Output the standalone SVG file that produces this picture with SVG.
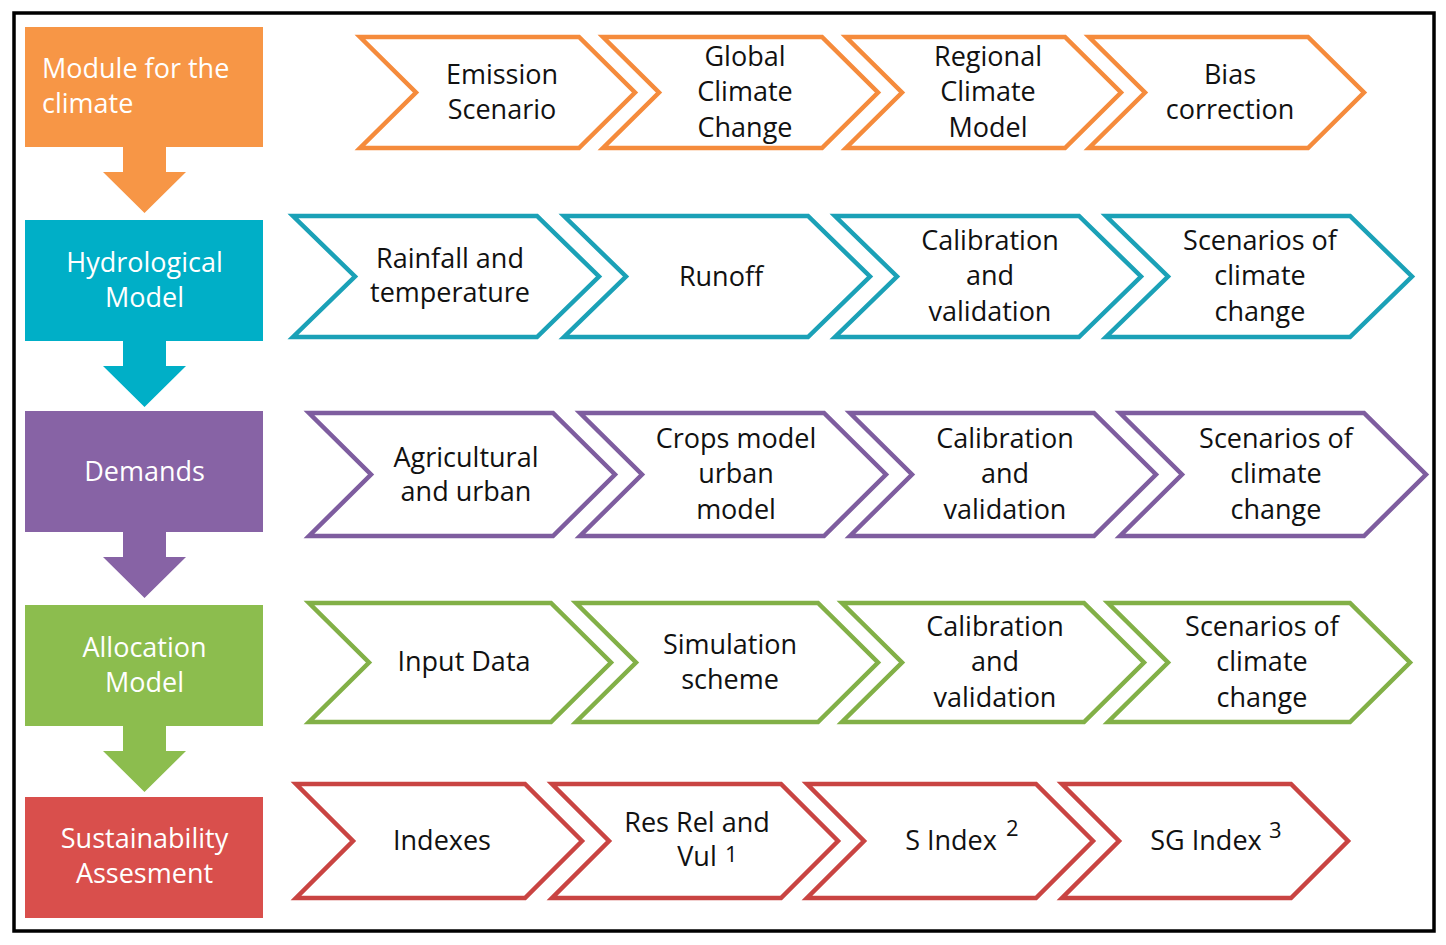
<svg xmlns="http://www.w3.org/2000/svg" width="1446" height="945" viewBox="0 0 1446 945">
<style>
text{font-family:"Open Sans","Noto Sans","DejaVu Sans",sans-serif;font-size:27px;}
.w{fill:#ffffff;}
.b{fill:#111111;text-anchor:middle;}
.c{fill:#ffffff;stroke-width:4.5;stroke-linejoin:miter;}
.sup{font-size:22px;text-anchor:start;}
.o{fill:#F79646;} .os{stroke:#F58B3C;}
.t{fill:#00AFC7;} .ts{stroke:#1BA1B7;}
.p{fill:#8763A5;} .ps{stroke:#7E5D9F;}
.g{fill:#8CBD4E;} .gs{stroke:#82B047;}
.r{fill:#D94F4C;} .rs{stroke:#C94442;}
</style>
<rect x="0" y="0" width="1446" height="945" fill="#ffffff"/>
<rect x="14" y="13" width="1420" height="918" fill="none" stroke="#000000" stroke-width="3.5"/>

<g id="module-climate">
<rect class="o" x="25" y="27" width="238" height="120"/>
<text class="w" x="42" y="78">Module for the</text>
<text class="w" x="42" y="113">climate</text>
</g>
<g id="hydrological-model">
<rect class="t" x="25" y="220" width="238" height="121"/>
<text class="w" x="144.5" y="272" text-anchor="middle">Hydrological</text>
<text class="w" x="144.5" y="307" text-anchor="middle">Model</text>
</g>
<g id="demands">
<rect class="p" x="25" y="411" width="238" height="121"/>
<text class="w" x="144.5" y="481" text-anchor="middle">Demands</text>
</g>
<g id="allocation-model">
<rect class="g" x="25" y="605" width="238" height="121"/>
<text class="w" x="144.5" y="657" text-anchor="middle">Allocation</text>
<text class="w" x="144.5" y="692" text-anchor="middle">Model</text>
</g>
<g id="sustainability">
<rect class="r" x="25" y="797" width="238" height="121"/>
<text class="w" x="144.5" y="848" text-anchor="middle">Sustainability</text>
<text class="w" x="144.5" y="883" text-anchor="middle">Assesment</text>
</g>

<g id="connectors">
<polygon class="o" points="123,146 166,146 166,172 186,172 144.5,213 103,172 123,172"/>
<polygon class="t" points="123,340 166,340 166,366 186,366 144.5,407 103,366 123,366"/>
<polygon class="p" points="123,531 166,531 166,557 186,557 144.5,598 103,557 123,557"/>
<polygon class="g" points="123,725 166,725 166,751 186,751 144.5,792 103,751 123,751"/>
</g>

<g id="emission-scenario">
<polygon class="c os" points="360,37 579,37 635,92.5 579,148 360,148 416,92.5"/>
<text class="b" x="502" y="84">Emission</text>
<text class="b" x="502" y="119">Scenario</text>
</g>
<g id="global-climate-change">
<polygon class="c os" points="603,37 822,37 878,92.5 822,148 603,148 659,92.5"/>
<text class="b" x="745" y="66">Global</text>
<text class="b" x="745" y="101">Climate</text>
<text class="b" x="745" y="137">Change</text>
</g>
<g id="regional-climate-model">
<polygon class="c os" points="846,37 1065,37 1121,92.5 1065,148 846,148 902,92.5"/>
<text class="b" x="988" y="66">Regional</text>
<text class="b" x="988" y="101">Climate</text>
<text class="b" x="988" y="137">Model</text>
</g>
<g id="bias-correction">
<polygon class="c os" points="1089,37 1308,37 1364,92.5 1308,148 1089,148 1145,92.5"/>
<text class="b" x="1230" y="84">Bias</text>
<text class="b" x="1230" y="119">correction</text>
</g>

<g id="rainfall-temperature">
<polygon class="c ts" points="293,216 537,216 599,276.5 537,337 293,337 355,276.5"/>
<text class="b" x="450" y="268">Rainfall and</text>
<text class="b" x="450" y="302">temperature</text>
</g>
<g id="runoff">
<polygon class="c ts" points="564,216 808,216 870,276.5 808,337 564,337 626,276.5"/>
<text class="b" x="721" y="286">Runoff</text>
</g>
<g id="hydro-calibration">
<polygon class="c ts" points="835,216 1079,216 1141,276.5 1079,337 835,337 897,276.5"/>
<text class="b" x="990" y="250">Calibration</text>
<text class="b" x="990" y="285">and</text>
<text class="b" x="990" y="321">validation</text>
</g>
<g id="hydro-scenarios">
<polygon class="c ts" points="1106,216 1350,216 1412,276.5 1350,337 1106,337 1168,276.5"/>
<text class="b" x="1260" y="250">Scenarios of</text>
<text class="b" x="1260" y="285">climate</text>
<text class="b" x="1260" y="321">change</text>
</g>

<g id="agricultural-urban">
<polygon class="c ps" points="309,413 553,413 615,474.5 553,536 309,536 371,474.5"/>
<text class="b" x="466" y="467">Agricultural</text>
<text class="b" x="466" y="501">and urban</text>
</g>
<g id="crops-urban-model">
<polygon class="c ps" points="580,413 824,413 886,474.5 824,536 580,536 642,474.5"/>
<text class="b" x="736" y="448">Crops model</text>
<text class="b" x="736" y="483">urban</text>
<text class="b" x="736" y="519">model</text>
</g>
<g id="demand-calibration">
<polygon class="c ps" points="850,413 1094,413 1156,474.5 1094,536 850,536 912,474.5"/>
<text class="b" x="1005" y="448">Calibration</text>
<text class="b" x="1005" y="483">and</text>
<text class="b" x="1005" y="519">validation</text>
</g>
<g id="demand-scenarios">
<polygon class="c ps" points="1120,413 1364,413 1426,474.5 1364,536 1120,536 1182,474.5"/>
<text class="b" x="1276" y="448">Scenarios of</text>
<text class="b" x="1276" y="483">climate</text>
<text class="b" x="1276" y="519">change</text>
</g>

<g id="input-data">
<polygon class="c gs" points="309,603 551,603 611,662.5 551,722 309,722 369,662.5"/>
<text class="b" x="464" y="671">Input Data</text>
</g>
<g id="simulation-scheme">
<polygon class="c gs" points="576,603 818,603 878,662.5 818,722 576,722 636,662.5"/>
<text class="b" x="730" y="654">Simulation</text>
<text class="b" x="730" y="689">scheme</text>
</g>
<g id="allocation-calibration">
<polygon class="c gs" points="842,603 1084,603 1144,662.5 1084,722 842,722 902,662.5"/>
<text class="b" x="995" y="636">Calibration</text>
<text class="b" x="995" y="671">and</text>
<text class="b" x="995" y="707">validation</text>
</g>
<g id="allocation-scenarios">
<polygon class="c gs" points="1108,603 1350,603 1410,662.5 1350,722 1108,722 1168,662.5"/>
<text class="b" x="1262" y="636">Scenarios of</text>
<text class="b" x="1262" y="671">climate</text>
<text class="b" x="1262" y="707">change</text>
</g>

<g id="indexes">
<polygon class="c rs" points="296,784 525,784 582,841 525,898 296,898 353,841"/>
<text class="b" x="442" y="850">Indexes</text>
</g>
<g id="res-rel-vul">
<polygon class="c rs" points="552,784 781,784 838,841 781,898 552,898 609,841"/>
<text class="b" x="697" y="832">Res Rel and</text>
<text class="b" x="697" y="866">Vul</text>
<text class="b sup" x="725" y="862">1</text>
</g>
<g id="s-index">
<polygon class="c rs" points="807,784 1036,784 1093,841 1036,898 807,898 864,841"/>
<text class="b" x="951" y="850">S Index</text>
<text class="b sup" x="1006" y="836">2</text>
</g>
<g id="sg-index">
<polygon class="c rs" points="1062,784 1291,784 1348,841 1291,898 1062,898 1119,841"/>
<text class="b" x="1206" y="850">SG Index</text>
<text class="b sup" x="1269" y="838">3</text>
</g>
</svg>
